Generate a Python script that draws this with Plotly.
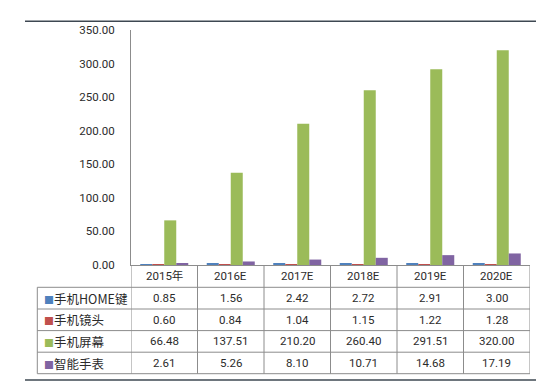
import plotly.graph_objects as go

categories = ["2015年", "2016E", "2017E", "2018E", "2019E", "2020E"]
series_names = ["手机HOME键", "手机镜头", "手机屏幕", "智能手表"]
home_key = [0.85, 1.56, 2.42, 2.72, 2.91, 3.00]
camera = [0.60, 0.84, 1.04, 1.15, 1.22, 1.28]
screen = [66.48, 137.51, 210.20, 260.40, 291.51, 320.00]
watch = [2.61, 5.26, 8.10, 10.71, 14.68, 17.19]
series_values = [home_key, camera, screen, watch]
colors = ["#4F81BD", "#C0504D", "#9BBB59", "#8064A2"]

W, H = 546, 388
L, R, T, B = 123, 24, 22, 131
PW, PH = W - L - R, H - T - B


def py2paper(py):
    return (H - B - py) / PH


def px2paper(px):
    return (px - L) / PW


fig = go.Figure()
for name, vals, col in zip(series_names, series_values, colors):
    fig.add_trace(go.Bar(x=categories, y=vals, name=name, marker=dict(color=col, line=dict(width=0))))

grid = "#8C8C8C"
txt = "#2B2B2B"
num_font = dict(family="Roboto, Noto Sans CJK SC", size=11.5, color=txt)

shapes = []
annotations = []

# horizontal table lines (below header)
row_lines_px = [279.3, 301.0, 322.6, 344.2, 365.7]
for py in row_lines_px:
    shapes.append(dict(type="line", xref="paper", yref="paper", x0=px2paper(29.3), x1=1.0,
                       y0=py2paper(py), y1=py2paper(py), line=dict(color=grid, width=1)))
# vertical column lines in data coords
for i in range(len(categories) + 1):
    shapes.append(dict(type="line", xref="x", yref="paper", x0=i - 0.5, x1=i - 0.5,
                       y0=0, y1=py2paper(365.7), line=dict(color=grid, width=1)))
# left border of legend column
shapes.append(dict(type="line", xref="paper", yref="paper", x0=px2paper(29.3), x1=px2paper(29.3),
                   y0=py2paper(279.3), y1=py2paper(365.7), line=dict(color=grid, width=1)))
# outer document lines
for py in [13.3, 372.0]:
    shapes.append(dict(type="line", xref="paper", yref="paper", x0=px2paper(17), x1=px2paper(528),
                       y0=py2paper(py), y1=py2paper(py), line=dict(color="#3E4852", width=1.6)))

# header row
for c in categories:
    annotations.append(dict(x=c, xref="x", y=py2paper(268.3), yref="paper", text=c, showarrow=False,
                            xanchor="center", yanchor="middle", font=num_font))

row_centers_px = [290.2, 311.8, 333.4, 355.0]
for name, vals, col, pyc in zip(series_names, series_values, colors, row_centers_px):
    annotations.append(dict(x=px2paper(34), xref="paper", y=py2paper(pyc), yref="paper",
                            text=f'<span style="color:{col};font-size:10px">■</span>{name}',
                            showarrow=False, xanchor="left", yanchor="middle",
                            font=dict(family="Noto Sans CJK SC", size=12.5, color=txt)))
    for c, v in zip(categories, vals):
        annotations.append(dict(x=c, xref="x", y=py2paper(pyc), yref="paper", text=f"{v:.2f}",
                                showarrow=False, xanchor="center", yanchor="middle", font=num_font))

fig.update_layout(
    width=W, height=H, autosize=False,
    margin=dict(l=L, r=R, t=T, b=B, pad=0),
    paper_bgcolor="white", plot_bgcolor="white",
    barmode="group", bargap=0.278, bargroupgap=0,
    showlegend=False,
    shapes=shapes, annotations=annotations,
    xaxis=dict(showticklabels=False, ticks="", showgrid=False, zeroline=False,
               showline=True, linecolor=grid, linewidth=1, range=[-0.5, 5.5]),
    yaxis=dict(range=[0, 350], dtick=50, tickformat=".2f", showgrid=False, zeroline=False,
               showline=True, linecolor=grid, linewidth=1, ticks="",
               ticklabelstandoff=13, tickfont=num_font),
)

fig.write_html("out.html")
